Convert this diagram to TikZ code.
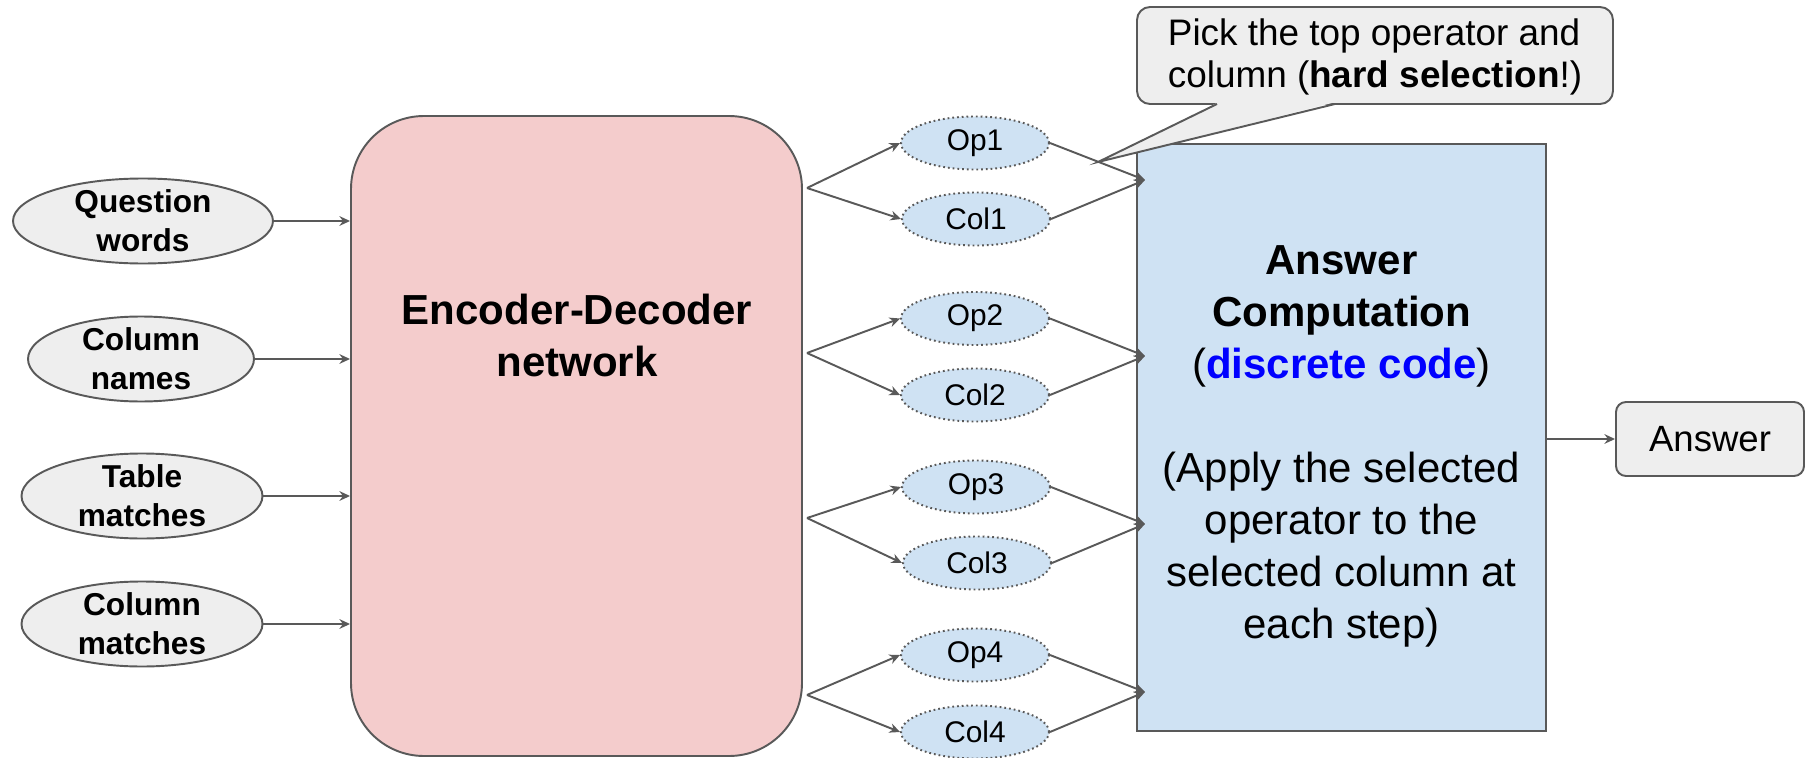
\documentclass[tikz,border=0pt]{standalone}
\usepackage{fontspec}
\setmainfont{Liberation Sans}
\usepackage{xcolor}
\usetikzlibrary{shapes.geometric,arrows.meta}
\definecolor{encpink}{HTML}{F4CCCC}
\definecolor{compblue}{HTML}{CFE2F3}
\definecolor{boxgray}{HTML}{EEEEEE}
\definecolor{edgegray}{HTML}{595959}
\definecolor{codeblue}{HTML}{0000FF}

\begin{document}
\begin{tikzpicture}[>={Stealth[length=6pt,width=5.5pt]}, line width=1.1pt,
  inpell/.style={draw=edgegray, fill=boxgray, ellipse, inner xsep=0pt, inner ysep=-2pt, minimum height=1.7cm, align=center, font=\fontsize{18}{22}\selectfont\bfseries},
  selell/.style={draw=edgegray, fill=compblue, dash pattern=on 1pt off 1.7pt, ellipse, minimum width=2.96cm, minimum height=1.06cm, inner sep=0pt, font=\fontsize{17}{20}\selectfont},
  link/.style={->, draw=edgegray}]
  \useasboundingbox (0,0) rectangle (36.1,15.14);

  % inputs
  \node[inpell, minimum width=5.2cm] (qwords) at (2.86,10.72) {Question\\words};
  \node[inpell, minimum width=4.52cm] (cnames) at (2.82,7.96) {Column\\names};
  \node[inpell, minimum width=4.82cm] (tmatch) at (2.84,5.22) {Table\\matches};
  \node[inpell, minimum width=4.82cm] (cmatch) at (2.84,2.66) {Column\\matches};

  % encoder-decoder
  \node[draw=edgegray, fill=encpink, rounded corners=1.46cm, minimum width=9.02cm, minimum height=12.8cm] (enc) at (11.53,6.42) {};
  \node[align=center, font=\fontsize{23.9}{29.6}\selectfont\bfseries] (enctext) at (11.54,8.44) {Encoder-Decoder\\network};

  % operators and columns
  \node[selell] (op1) at (19.5,12.28) {Op1};
  \node[selell] (col1) at (19.52,10.76) {Col1};
  \node[selell] (op2) at (19.5,8.77) {Op2};
  \node[selell] (col2) at (19.5,7.24) {Col2};
  \node[selell] (op3) at (19.52,5.4) {Op3};
  \node[selell] (col3) at (19.54,3.88) {Col3};
  \node[selell] (op4) at (19.5,2.04) {Op4};
  \node[selell] (col4) at (19.5,0.5) {Col4};

  % answer computation
  \node[draw=edgegray, fill=compblue, minimum width=8.18cm, minimum height=11.74cm, align=center, font=\fontsize{23.9}{29.6}\selectfont] (comp) at (26.83,6.39) {\rule{0pt}{26.5pt}{\bfseries Answer}\\{\bfseries Computation}\\({\bfseries\color{codeblue}discrete code})\\[29.6pt](Apply the selected\\operator to the\\selected column at\\each step)};
  \node[draw=edgegray, fill=boxgray, rounded corners=0.2cm, minimum width=3.76cm, minimum height=1.48cm, font=\fontsize{20.8}{25}\selectfont] (ans) at (34.2,6.36) {Answer};

  \coordinate (f1) at (16.14,11.38);
  \coordinate (f2) at (16.14,8.08);
  \coordinate (f3) at (16.14,4.78);
  \coordinate (f4) at (16.14,1.24);
  \coordinate (m1) at (22.9,11.54);
  \coordinate (m2) at (22.9,8.02);
  \coordinate (m3) at (22.9,4.66);
  \coordinate (m4) at (22.9,1.3);

  \draw[link] (qwords.east) -- (qwords.east -| enc.west);
  \draw[link] (cnames.east) -- (cnames.east -| enc.west);
  \draw[link] (tmatch.east) -- (tmatch.east -| enc.west);
  \draw[link] (cmatch.east) -- (cmatch.east -| enc.west);

  \draw[link] (f1) -- (op1.west);
  \draw[link] (f1) -- (col1.west);
  \draw[link] (f2) -- (op2.west);
  \draw[link] (f2) -- (col2.west);
  \draw[link] (f3) -- (op3.west);
  \draw[link] (f3) -- (col3.west);
  \draw[link] (f4) -- (op4.west);
  \draw[link] (f4) -- (col4.west);

  \draw[link] (op1.east) -- (m1);
  \draw[link] (col1.east) -- (m1);
  \draw[link] (op2.east) -- (m2);
  \draw[link] (col2.east) -- (m2);
  \draw[link] (op3.east) -- (m3);
  \draw[link] (col3.east) -- (m3);
  \draw[link] (op4.east) -- (m4);
  \draw[link] (col4.east) -- (m4);

  \draw[link] (ans.west -| comp.east) -- (ans.west);

  % callout
  \node[draw=edgegray, fill=boxgray, rounded corners=0.26cm, minimum width=9.52cm, minimum height=1.94cm, align=left, font=\fontsize{21}{23.9}\selectfont] (hint) at (27.5,14.03) {\rule{0pt}{17pt}Pick the top operator and\\column (\textbf{hard selection}!)};
  \coordinate (tip) at (21.96,11.9);
  \fill[boxgray] (24.36,13.09) -- (tip) -- (26.68,13.09) -- cycle;
  \draw[edgegray] (24.34,13.06) -- (tip) -- (26.7,13.06);
\end{tikzpicture}
\end{document}
